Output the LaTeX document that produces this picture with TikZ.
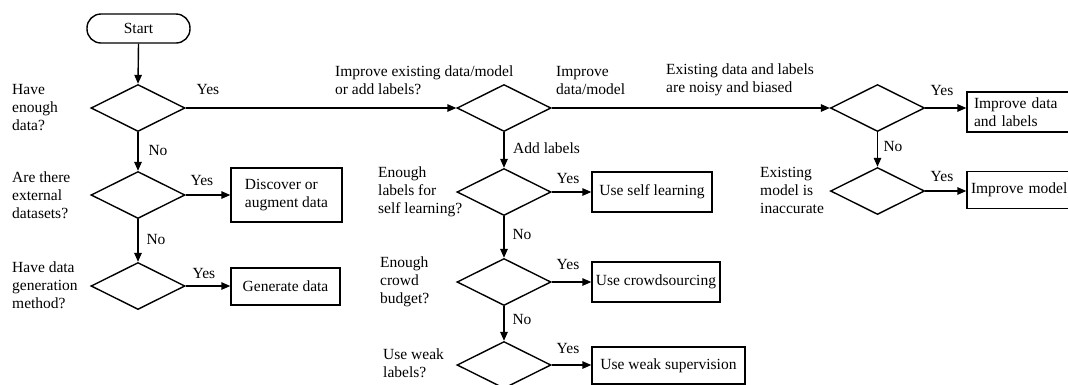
\documentclass[tikz,border=0pt]{standalone}
\usepackage{fontspec}
\setmainfont{Liberation Serif}
\usetikzlibrary{shapes.geometric,arrows.meta}
\begin{document}
\begin{tikzpicture}[x=1pt,y=-1pt,
  every node/.style={font=\fontsize{15.5}{18}\selectfont},
  flow/.style={line width=1.4pt,-{Triangle[length=9pt,width=7.5pt]}},
  decision/.style={diamond,draw,line width=1.4pt,minimum width=94pt,minimum height=47pt,inner sep=0pt},
  action/.style={rectangle,draw,line width=1.4pt,inner sep=0pt,align=left},
  edgebox/.style={rectangle,draw,line width=1.4pt,inner xsep=7pt,inner ysep=0pt,text width=110pt,align=left},
  terminal/.style={rectangle,draw,line width=1.4pt,rounded corners=14pt,minimum width=103pt,minimum height=29pt,inner sep=0pt},
  lbl/.style={inner sep=0pt,align=left,anchor=west},
  tag/.style={inner sep=0pt}]
\useasboundingbox (0,0) rectangle (1068,384);
\clip (0,0) rectangle (1068,384);

% start and the data column
\node[terminal] (start) at (138.5,28.5) {Start};
\node[decision] (d1) at (138,108) {};
\node[decision] (d8) at (138,195) {};
\node[decision] (d9) at (138,286) {};
\node[action,minimum width=111pt,minimum height=54pt] (bdisc) at (286.5,195) {Discover or\\augment data};
\node[action,minimum width=109pt,minimum height=37pt] (bgen) at (285.5,286.5) {Generate data};

% labelling column
\node[decision] (d2) at (504,108) {};
\node[decision] (d5) at (504,192) {};
\node[decision] (d6) at (504,282) {};
\node[decision] (d7) at (504,365) {};
\node[action,minimum width=120pt,minimum height=40pt] (bself) at (652,192) {Use self learning};
\node[action,minimum width=128pt,minimum height=40pt] (bcrowd) at (656,282) {Use crowdsourcing};
\node[action,minimum width=153pt,minimum height=37pt] (bweak) at (668.5,365.5) {Use weak supervision};

% improvement column (boxes run past the right edge)
\node[decision] (d3) at (877.5,108) {};
\node[decision] (d4) at (877.5,191) {};
\node[edgebox,minimum height=40pt] (bimp) at (1029,112) {Improve data\\and labels};
\node[edgebox,minimum height=37pt,inner xsep=4pt] (bmod) at (1026,190) {Improve model};

% connectors
\draw[flow] (start.south) -- (d1.north);
\draw[flow] (d1.south) -- (d8.north);
\draw[flow] (d8.south) -- (d9.north);
\draw[flow] (d8.east) -- (bdisc.west |- d8.east);
\draw[flow] (d9.east) -- (bgen.west |- d9.east);
\draw[flow] (d1.east) -- (d2.west);
\draw[flow] (d2.east) -- (d3.west);
\draw[flow] (d2.south) -- (d5.north);
\draw[flow] (d5.south) -- (d6.north);
\draw[flow] (d6.south) -- (d7.north);
\draw[flow] (d5.east) -- (bself.west |- d5.east);
\draw[flow] (d6.east) -- (bcrowd.west |- d6.east);
\draw[flow] (d7.east) -- (bweak.west |- d7.east);
\draw[flow] (d3.south) -- (d4.north);
\draw[flow] (d3.east) -- (bimp.west |- d3.east);
\draw[flow] (d4.east) -- (bmod.west |- d4.east);

% questions
\node[lbl] (q1) at (12,108) {Have\\enough\\data?};
\node[lbl] (q8) at (12,195) {Are there\\external\\datasets?};
\node[lbl] (q9) at (12,285) {Have data\\generation\\method?};
\node[lbl] (q2) at (335,80) {Improve existing data/model\\or add labels?};
\node[lbl] (q5) at (378,192) {Enough\\labels for\\self learning?};
\node[lbl] (q6) at (380,282) {Enough\\crowd\\budget?};
\node[lbl] (q7) at (383,363) {Use weak\\labels?};
\node[lbl] (q3) at (666,80) {Existing data and labels\\are noisy and biased};
\node[lbl] (q4) at (760,190) {Existing\\model is\\inaccurate};

% branch tags
\node[tag] (y1) at (208,89) {Yes};
\node[tag] (n1) at (158,150) {No};
\node[tag] (y8) at (202,180) {Yes};
\node[tag] (n8) at (156,239) {No};
\node[tag] (y9) at (204,273) {Yes};
\node[lbl] (t2) at (556,80) {Improve\\data/model};
\node[lbl] (a2) at (513,148) {Add labels};
\node[tag] (y5) at (568,178) {Yes};
\node[tag] (n5) at (522,234) {No};
\node[tag] (y6) at (568,264) {Yes};
\node[tag] (n6) at (522,319) {No};
\node[tag] (y7) at (568,348) {Yes};
\node[tag] (y3) at (942,90) {Yes};
\node[tag] (n3) at (893,146) {No};
\node[tag] (y4) at (942,176) {Yes};
\end{tikzpicture}
\end{document}
